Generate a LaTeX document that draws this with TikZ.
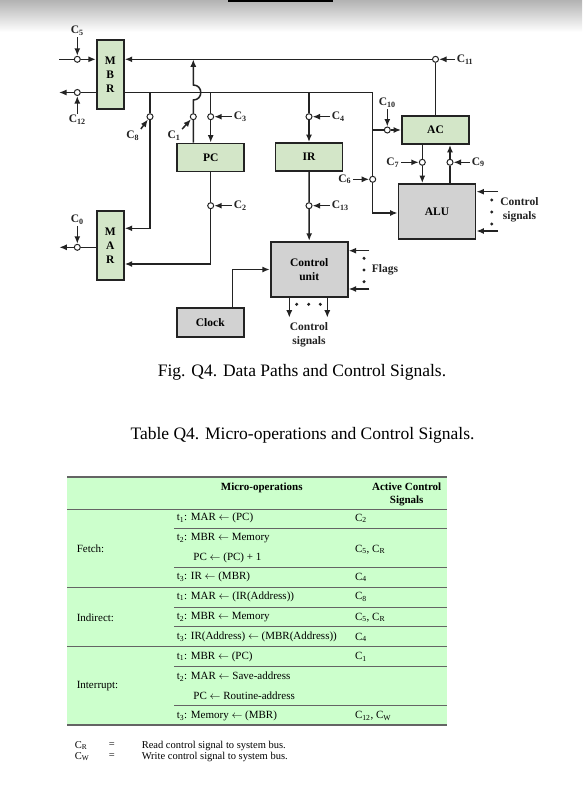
\documentclass[tikz,border=0pt]{standalone}
\usepackage{fontspec}
\setmainfont{Liberation Serif}
\usetikzlibrary{arrows.meta,calc}
\definecolor{boxgreen}{RGB}{211,230,200}
\definecolor{boxgray}{RGB}{210,210,210}
\definecolor{tabgreen}{RGB}{204,255,204}
\definecolor{ink}{RGB}{35,35,35}
\definecolor{tabline}{RGB}{100,100,100}
\newcommand\Cs[1]{C\textsubscript{#1}}
\newcommand\ts[1]{t\textsubscript{#1}}
\begin{document}
\begin{tikzpicture}[x=1pt,y=-1pt,line width=1.5pt,draw=ink,
  arr/.style={-{Latex[length=7.5pt,width=6pt]}},
  gbox/.style={draw=ink,line width=1.8pt,fill=boxgreen,inner sep=0pt,align=center,
    font=\fontsize{11.5}{14}\selectfont\bfseries},
  graybox/.style={gbox,fill=boxgray},
  sw/.style={circle,draw=ink,fill=white,line width=1pt,minimum size=6pt,inner sep=0pt},
  lab/.style={font=\fontsize{11.5}{13}\selectfont\bfseries,inner sep=1pt,text=ink},
  tlab/.style={font=\fontsize{11.5}{14}\selectfont\bfseries,inner sep=0pt,align=center,text=ink},
  dot/.style={circle,fill=ink,inner sep=0pt,minimum size=3.4pt},
  cell/.style={font=\fontsize{11}{13}\selectfont,inner sep=0pt,anchor=west,text=black},
  hcell/.style={font=\fontsize{11}{13}\selectfont\bfseries,inner sep=0pt,align=center,text=black},
  rule/.style={draw=tabline,line width=1.2pt},
  captext/.style={font=\fontsize{17.5}{20}\selectfont,inner sep=0pt,text=black}]
\useasboundingbox (0,0) rectangle (582,811);
\fill[white] (0,0) rectangle (582,811);
\shade[top color=black!30,bottom color=white] (0,0) rectangle (582,32);
\fill[black] (228,0) rectangle (333,1.5);

% ---------- boxes
\node[gbox,minimum width=27pt,minimum height=69pt] (mbr) at (110.3,74.5) {M\\B\\R};
\node[gbox,minimum width=27pt,minimum height=69pt] (mar) at (110.3,245.3) {M\\A\\R};
\node[gbox,minimum width=67pt,minimum height=28pt] (pc) at (210.7,157.5) {PC};
\node[gbox,minimum width=67pt,minimum height=28pt] (ir) at (309,157) {IR};
\node[gbox,minimum width=67pt,minimum height=28pt] (ac) at (435.5,130) {AC};
\node[graybox,minimum width=77pt,minimum height=55pt] (alu) at (437,211.5) {ALU};
\node[graybox,minimum width=77pt,minimum height=55.6pt] (cu) at (309.2,269.5) {Control\\unit};
\node[graybox,minimum width=67pt,minimum height=29pt] (clock) at (210.3,322.2) {Clock};

% ---------- coordinates
\coordinate (j8) at (150,92.5);
\coordinate (j3) at (210.7,92.5);
\coordinate (j4) at (309,92.5);
\coordinate (b2r) at (372.7,92.5);
\coordinate (j10) at (372.7,130);
\coordinate (b2d) at (372.7,213);
\coordinate (m8) at (150,228.3);
\coordinate (m2) at (210.7,264);
\coordinate (in5) at (59,59.3);
\coordinate (out12) at (59,92.5);
\coordinate (out0) at (59.3,247.3);
\coordinate (clk) at (232.3,269.5);
\coordinate (hopA) at (193.3,100);
\coordinate (hopB) at (193.3,85);

% ---------- switches
\node[sw] (s5) at (77.3,59.3) {};
\node[sw] (s12) at (77.3,92.5) {};
\node[sw] (s0) at (77.3,247.3) {};
\node[sw] (s11) at (435.5,59.3) {};
\node[sw] (s8) at (150,116.7) {};
\node[sw] (s1) at (193.3,116.7) {};
\node[sw] (s3) at (210.7,116.7) {};
\node[sw] (s2) at (210.7,205.7) {};
\node[sw] (s4) at (309,116.7) {};
\node[sw] (s13) at (309,205.7) {};
\node[sw] (s10) at (387.3,130) {};
\node[sw] (s6) at (372.7,179.3) {};
\node[sw] (s7) at (422.3,162.3) {};
\node[sw] (s9) at (450,162.3) {};

% ---------- labels
\node[lab] (l5) at (77.3,31) {\Cs{5}};
\node[lab] (l12) at (77.3,120) {\Cs{12}};
\node[lab] (l0) at (77.3,219.5) {\Cs{0}};
\node[lab,anchor=west] (l11) at (455,59.3) {\Cs{11}};
\node[lab] (l8) at (132.7,135.5) {\Cs{8}};
\node[lab] (l1) at (174,135.5) {\Cs{1}};
\node[lab,anchor=west] (l3) at (232,116.7) {\Cs{3}};
\node[lab,anchor=west] (l2) at (232,205.7) {\Cs{2}};
\node[lab,anchor=west] (l4) at (330,116.7) {\Cs{4}};
\node[lab,anchor=west] (l13) at (330,205.7) {\Cs{13}};
\node[lab] (l10) at (387.3,103) {\Cs{10}};
\node[lab,anchor=east] (l6) at (353,179.3) {\Cs{6}};
\node[lab,anchor=east] (l7) at (401,162.3) {\Cs{7}};
\node[lab,anchor=west] (l9) at (470,162.3) {\Cs{9}};

% ---------- MBR connections
\draw (in5) -- (s5);
\draw[arr] (s5) -- (mbr.west |- s5);
\draw[arr] (l5.south) -- (s5);
\draw (mbr.west |- s12) -- (s12);
\draw[arr] (s12) -- (out12);
\draw[arr] (l12.north) -- (s12);
\draw[arr] (s11) -- (mbr.east |- s11);
\draw (ac.north) -- (s11);
\draw[arr] (l11.west) -- (s11);

% bus 2
\draw[arr] (mbr.east |- b2r) -- (b2r) -- (s6) -- (b2d) -- (alu.west |- b2d);
\draw (j10) -- (s10);
\draw[arr] (s10) -- (ac.west |- s10);
\draw[arr] (l10.south) -- (s10);
\draw[arr] (l6.east) -- (s6);

% C8 to MAR
\draw[arr] (j8) -- (s8) -- (m8) -- (mar.east |- m8);
\draw[arr] (l8.north east) -- (s8);

% C1 PC to top bus with hop
\draw[arr] (s1 |- pc.north) -- (s1) -- (hopA) .. controls (203.3,100) and (203.3,85) .. (hopB) -- (s1 |- s11);
\draw[arr] (l1.north east) -- (s1);

% C3
\draw[arr] (j3) -- (s3) -- (pc.north);
\draw[arr] (l3.west) -- (s3);

% PC to MAR
\draw[arr] (pc.south) -- (s2) -- (m2) -- (mar.east |- m2);
\draw[arr] (l2.west) -- (s2);

% MAR out
\draw (mar.west |- s0) -- (s0);
\draw[arr] (s0) -- (out0);
\draw[arr] (l0.south) -- (s0);

% IR
\draw[arr] (j4) -- (s4) -- (ir.north);
\draw[arr] (l4.west) -- (s4);
\draw[arr] (ir.south) -- (s13) -- (cu.north);
\draw[arr] (l13.west) -- (s13);

% AC <-> ALU
\draw[arr] (s7 |- ac.south) -- (s7) -- (s7 |- alu.north);
\draw[arr] (l7.east) -- (s7);
\draw[arr] (s9 |- alu.north) -- (s9) -- (s9 |- ac.south);
\draw[arr] (l9.west) -- (s9);

% ALU control signals
\coordinate (ac1) at (498,191.7);
\coordinate (ac2) at (498,231);
\draw[arr] (ac1) -- (alu.east |- ac1);
\draw[arr] (ac2) -- (alu.east |- ac2);
\node[dot] (ad1) at (491.7,200) {};
\node[dot] (ad2) at (491.7,212) {};
\node[dot] (ad3) at (491.7,224) {};
\node[tlab] (alucs) at (519.5,210) {Control\\signals};

% Flags
\coordinate (f1) at (369.3,250.7);
\coordinate (f2) at (369.3,289);
\draw[arr] (f1) -- (cu.east |- f1);
\draw[arr] (f2) -- (cu.east |- f2);
\node[dot] (fd1) at (364,258.3) {};
\node[dot] (fd2) at (364,270) {};
\node[dot] (fd3) at (364,281.7) {};
\node[lab] (flags) at (385,270) {Flags};

% CU outputs
\coordinate (o1) at (289.3,317.7);
\coordinate (o2) at (327.3,317.7);
\draw[arr] (o1 |- cu.south) -- (o1);
\draw[arr] (o2 |- cu.south) -- (o2);
\node[dot] (od1) at (296.7,304.3) {};
\node[dot] (od2) at (308.7,304.3) {};
\node[dot] (od3) at (320.3,304.3) {};
\node[tlab] (cucs) at (309,334.7) {Control\\signals};

% Clock
\draw[arr] (clk |- clock.north) -- (clk) -- (cu.west |- clk);

% ---------- captions
\node[captext] (figcap) at (302,372) {Fig. Q4. Data Paths and Control Signals.};
\node[captext] (tabcap) at (302.5,435) {Table Q4. Micro-operations and Control Signals.};

% ---------- table
\fill[tabgreen] (67,477) rectangle (447,725);
\draw[rule] (67,477) -- (447,477);
\draw[rule] (67,509.3) -- (447,509.3);
\draw[rule] (67,587.3) -- (447,587.3);
\draw[rule] (67,646.3) -- (447,646.3);
\draw[rule] (67,725) -- (447,725);
\draw[rule] (174,528.3) -- (447,528.3);
\draw[rule] (174,567.7) -- (447,567.7);
\draw[rule] (174,607.3) -- (447,607.3);
\draw[rule] (174,626.7) -- (447,626.7);
\draw[rule] (174,666.7) -- (447,666.7);
\draw[rule] (174,705.7) -- (447,705.7);

\node[hcell] (h1) at (261.7,488.3) {Micro-operations};
\node[hcell] (h2) at (406.7,494.5) {Active Control\\Signals};

\node[cell] (g1) at (76,549) {Fetch:};
\node[cell] (g2) at (76,618) {Indirect:};
\node[cell] (g3) at (76,686) {Interrupt:};

\node[cell] (a1) at (176,518.3) {\ts{1}: MAR $\leftarrow$ (PC)};
\node[cell] (a2) at (176,538.3) {\ts{2}: MBR $\leftarrow$ Memory};
\node[cell] (a3) at (192.7,558.3) {PC $\leftarrow$ (PC) + 1};
\node[cell] (a4) at (176,577.3) {\ts{3}: IR $\leftarrow$ (MBR)};
\node[cell] (a5) at (176,596.7) {\ts{1}: MAR $\leftarrow$ (IR(Address))};
\node[cell] (a6) at (176,617.3) {\ts{2}: MBR $\leftarrow$ Memory};
\node[cell] (a7) at (176,637.3) {\ts{3}: IR(Address) $\leftarrow$ (MBR(Address))};
\node[cell] (a8) at (176,656.7) {\ts{1}: MBR $\leftarrow$ (PC)};
\node[cell] (a9) at (176,676.7) {\ts{2}: MAR $\leftarrow$ Save-address};
\node[cell] (a10) at (192.7,696) {PC $\leftarrow$ Routine-address};
\node[cell] (a11) at (176,716) {\ts{3}: Memory $\leftarrow$ (MBR)};

\node[cell] (c1) at (354.3,518.3) {\Cs{2}};
\node[cell] (c2) at (354.3,549.3) {\Cs{5}, \Cs{R}};
\node[cell] (c3) at (354.3,577.3) {\Cs{4}};
\node[cell] (c4) at (354.3,596.7) {\Cs{8}};
\node[cell] (c5) at (354.3,617.3) {\Cs{5}, \Cs{R}};
\node[cell] (c6) at (354.3,637.3) {\Cs{4}};
\node[cell] (c7) at (354.3,656.7) {\Cs{1}};
\node[cell] (c8) at (354.3,716) {\Cs{12}, \Cs{W}};

% ---------- footnote
\node[cell,font=\fontsize{10.5}{12}\selectfont] (n1) at (74,745.5) {\Cs{R}};
\node[cell,font=\fontsize{10.5}{12}\selectfont] (n2) at (74,756.5) {\Cs{W}};
\node[cell,font=\fontsize{10.5}{12}\selectfont] (e1) at (108,745.5) {=};
\node[cell,font=\fontsize{10.5}{12}\selectfont] (e2) at (108,756.5) {=};
\node[cell,font=\fontsize{10.5}{12}\selectfont] (t1) at (141,745.5) {Read control signal to system bus.};
\node[cell,font=\fontsize{10.5}{12}\selectfont] (t2) at (141,756.5) {Write control signal to system bus.};
\end{tikzpicture}
\end{document}
